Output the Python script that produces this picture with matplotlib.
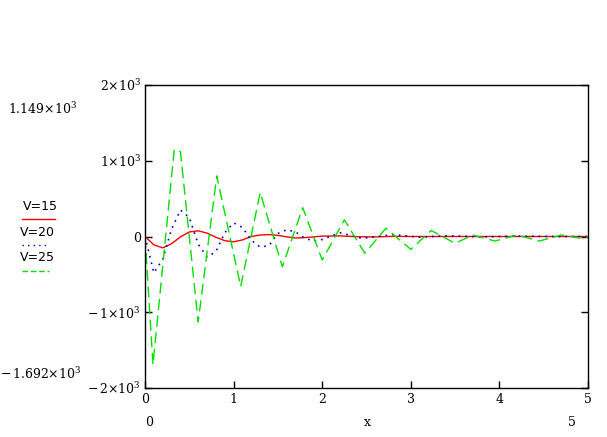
import matplotlib
matplotlib.use("Agg")
import matplotlib.pyplot as plt

# V=15 (red, solid)
x15 = [0, 0.1, 0.2, 0.3, 0.4, 0.5, 0.6, 0.7, 0.8, 0.9, 1.0, 1.1, 1.2, 1.3, 1.4, 1.5,
       1.6, 1.7, 1.8, 1.9, 2.0, 2.2, 2.4, 2.6, 2.8, 3.0, 3.5, 4.0, 4.5, 5.0]
y15 = [0, -110, -150, -95, -5, 60, 75, 45, -10, -55, -70, -45, 0, 20, 25, 15,
       -5, -20, -15, -5, 5, 8, -3, -5, 2, 0, 0, 0, 0, 0]

# V=20 (blue, dotted)
x20 = [0, 0.1, 0.2, 0.3, 0.4, 0.5, 0.6, 0.7, 0.8, 0.9, 1.0, 1.1, 1.2, 1.3, 1.4, 1.5,
       1.6, 1.7, 1.8, 1.9, 2.0, 2.2, 2.45, 2.8, 3.1, 3.4, 3.8, 4.2, 4.6, 5.0]
y20 = [0, -480, -300, 100, 350, 250, -100, -270, -200, 50, 180, 120, -50, -140, -120, 40,
       90, 60, -20, -60, -40, 50, -25, 25, -10, 10, -5, 5, 0, 0]

# V=25 (green, dashed)
x25 = [0, 0.09, 0.33, 0.40, 0.60, 0.81, 1.08, 1.30, 1.55, 1.78, 2.0, 2.25, 2.48, 2.72,
       3.0, 3.23, 3.5, 3.7, 3.95, 4.2, 4.45, 4.7, 4.95, 5.0]
y25 = [0, -1692, 1149, 1120, -1129, 800, -660, 580, -400, 380, -310, 220, -220, 110,
       -170, 80, -90, 20, -60, 20, -60, 20, -30, 0]

legend_labels = ["V=15", "V=20", "V=25"]
colors = ["#ff0000", "#0000c0", "#00e000"]

plt.rcParams["mathtext.fontset"] = "dejavuserif"

fig = plt.figure(figsize=(6.07, 4.37), dpi=100)
ax = fig.add_axes([0.2389, 0.1121, 0.7298, 0.6934])

ax.plot(x15, y15, color=colors[0], lw=1)
ax.plot(x20, y20, color=colors[1], lw=1.2, linestyle=(0, (1, 3)))
ax.plot(x25, y25, color=colors[2], lw=1, linestyle=(0, (8, 4)))

ax.set_xlim(0, 5)
ax.set_ylim(-2000, 2000)
ax.set_xticks([0, 1, 2, 3, 4, 5])
ax.set_yticks([-2000, -1000, 0, 1000, 2000])
ax.set_yticklabels([r"$-\,2{\times}10^3$", r"$-\,1{\times}10^3$", "0",
                    r"$1{\times}10^3$", r"$2{\times}10^3$"])
ax.tick_params(direction="in", length=5, labelsize=9, right=True, width=1)
ax.tick_params(axis="y", pad=3)
for sp in ax.spines.values():
    sp.set_linewidth(1)

for lab in ax.get_xticklabels() + ax.get_yticklabels():
    lab.set_family("DejaVu Serif")

# range labels under the axis
fig.text(0.2449, 0.025, "0", fontsize=9, family="DejaVu Serif", ha="center")
fig.text(0.606, 0.025, "x", fontsize=9, family="DejaVu Serif", ha="center")
fig.text(0.942, 0.025, "5", fontsize=9, family="DejaVu Serif", ha="center")

# y range labels on the left
fig.text(0.013, 0.74, r"$1.149{\times}10^3$", fontsize=9, family="DejaVu Serif")
fig.text(0.0, 0.133, r"$-\,1.692{\times}10^3$", fontsize=9, family="DejaVu Serif")

# legend on the left
leg_y = [0.52, 0.461, 0.402]
lstyles = ["-", (0, (1, 3)), (0, (4, 2))]
for i in range(3):
    fig.text(0.038 if i == 0 else 0.032, leg_y[i], legend_labels[i], fontsize=9,
             family="DejaVu Sans")
    fig.add_artist(plt.Line2D([0.036, 0.091 if i == 0 else 0.08],
                              [leg_y[i] - 0.021, leg_y[i] - 0.021],
                              transform=fig.transFigure, color=colors[i],
                              lw=1, linestyle=lstyles[i]))

plt.savefig("out.png", dpi=100)
